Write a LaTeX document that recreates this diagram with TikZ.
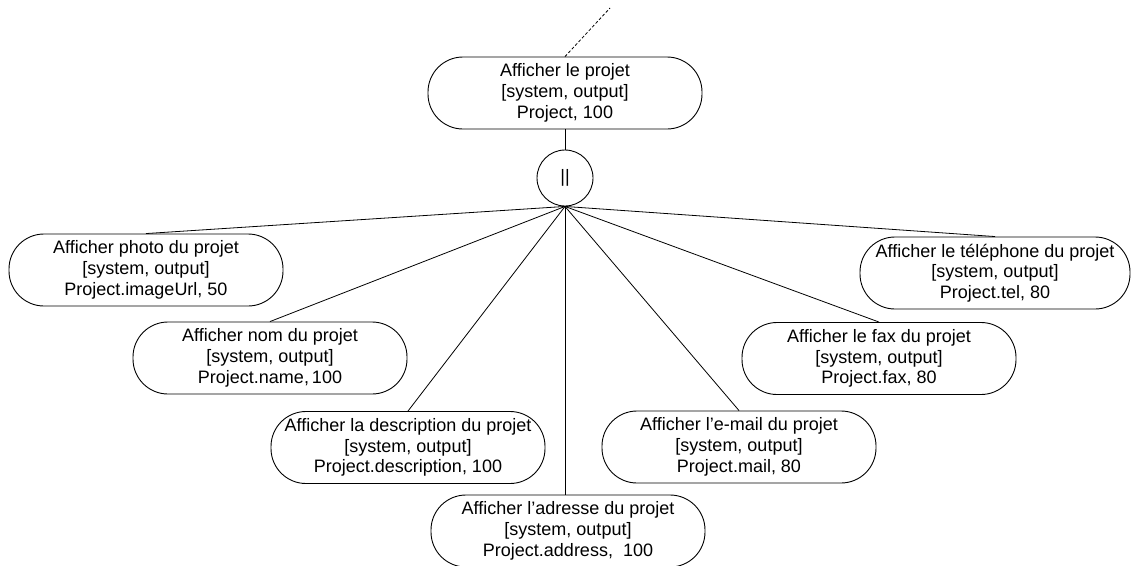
\documentclass[tikz,border=0pt]{standalone}
\usepackage{fontspec}
\setmainfont{Liberation Sans}
\usetikzlibrary{shapes.geometric}
\begin{document}
\begin{tikzpicture}[x=1pt,y=-1pt,
  usecase/.style={draw, line width=0.9pt, rounded corners=35pt, minimum width=274pt, minimum height=72pt,
    inner sep=0pt, align=center, font=\fontsize{18pt}{20.7pt}\selectfont},
  par/.style={draw, circle, line width=0.9pt, minimum size=56pt, inner sep=0pt,
    font=\fontsize{18pt}{20.7pt}\selectfont},
  link/.style={line width=0.8pt}]
\useasboundingbox (0,0) rectangle (1131,565);
\node[usecase] (top) at (565,93) {Afficher le projet\\{}[system, output]\\Project, 100};
\node[par] (pl) at (565,178) {||};
\node[usecase] (photo) at (146,270) {Afficher photo du projet\\{}[system, output]\\Project.imageUrl, 50};
\node[usecase] (nom) at (270,358) {Afficher nom du projet\\{}[system, output]\\Project.name,\,100};
\node[usecase] (desc) at (408,447.5) {Afficher la description du projet\\{}[system, output]\\Project.description, 100};
\node[usecase] (addr) at (568,531) {Afficher l’adresse du projet\\{}[system, output]\\Project.address,\ \ 100};
\node[usecase] (mail) at (739,447) {Afficher l’e-mail du projet\\{}[system, output]\\Project.mail, 80};
\node[usecase] (fax) at (879,358.5) {Afficher le fax du projet\\{}[system, output]\\Project.fax, 80};
\node[usecase, minimum width=270pt] (tel) at (995,273) {Afficher le téléphone du projet\\{}[system, output]\\Project.tel, 80};
\coordinate (ext) at (610,8);
\draw[link, dashed, dash pattern=on 3pt off 2pt] (top.north) -- (ext);
\draw[link] (top.south) -- (pl.north);
\foreach \n in {photo,nom,desc,mail,fax,tel}
  \draw[link] (pl.south) -- (\n.north);
\draw[link] (pl.south) -- (pl.south |- addr.north);
\end{tikzpicture}
\end{document}
